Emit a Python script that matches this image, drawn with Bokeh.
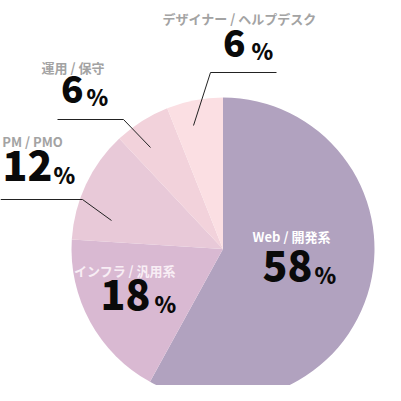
import numpy as np
from bokeh.plotting import figure
from bokeh.models import Range1d, ColumnDataSource
from bokeh.core.properties import value
from bokeh.embed import file_html
from bokeh.resources import INLINE

# ---- data ----
categories = ["Web / 開発系", "インフラ / 汎用系", "PM / PMO", "運用 / 保守", "デザイナー / ヘルプデスク"]
shares = [58, 18, 12, 6, 6]
colors = ["#b1a2bf", "#d9b9d2", "#e8c9d8", "#f2d2db", "#fbdfe3"]
number_labels = ["58", "18", "12", "6", "6"]

W = H = 385
p = figure(width=W, height=H, output_backend="svg", toolbar_location=None,
           x_range=Range1d(0, W), y_range=Range1d(0, H),
           x_axis_type=None, y_axis_type=None, min_border=0,
           outline_line_color=None, background_fill_color="white")
p.grid.visible = False

def Y(sy):  # screen y -> data y
    return H - sy

cx, cy, r = 222.5, Y(248.5), 151.5
frac = np.array(shares, dtype=float) / sum(shares)
cum = np.concatenate([[0], np.cumsum(frac)])
start = np.pi / 2 - 2 * np.pi * cum[:-1]
end = np.pi / 2 - 2 * np.pi * cum[1:]
src = ColumnDataSource(dict(start=start, end=end, color=colors))
p.wedge(x=cx, y=cy, radius=r, start_angle="start", end_angle="end",
        direction="clock", fill_color="color", line_color=None, source=src)

# leader lines (screen coordinates)
leaders = [
    ([193, 210, 276], [125, 72, 72]),
    ([150, 123, 57], [147, 119, 119]),
    ([111, 82, 0], [220, 199, 199]),
]
for xs, ys in leaders:
    p.line(xs, [Y(v) for v in ys], line_color="#222222", line_width=1)

font_lbl = value("Noto Sans CJK JP")
font_num = value("Noto Sans CJK JP Black, Inter")
MID = 0.436  # em offset of text "middle" above the baseline for this font

# category labels: (x center, y middle, color)
lbl_pos = [
    (291, 236, "#ffffff"),
    (124.5, 270, "#f8eef5"),
    (32, 141, "#a3a3a3"),
    (72.5, 67, "#a3a3a3"),
    (239, 18, "#a3a3a3"),
]
# number: (right x of number, digit bottom y, font px, left x of %)
num_pos = [
    (312, 283, 41, 314),
    (150, 312, 41, 154),
    (52, 183, 41, 53),
    (83, 105, 37, 86),
    (245, 59, 37, 251),
]
PCT = 22
for i, cat in enumerate(categories):
    x, y, c = lbl_pos[i]
    p.text(x=[x], y=[Y(y)], text=[cat], text_color=c, text_font=font_lbl,
           text_font_size="13px", text_font_style="bold",
           text_align="center", text_baseline="middle")
    nx, nb, fs, px = num_pos[i]
    p.text(x=[nx], y=[Y(nb - MID * fs)], text=[number_labels[i]], text_color="#0a0a0a",
           text_font=font_num, text_font_size=f"{fs}px", text_font_style="bold",
           text_align="right", text_baseline="middle")
    p.text(x=[px], y=[Y(nb - MID * PCT)], text=["%"], text_color="#0a0a0a",
           text_font=font_num, text_font_size=f"{PCT}px", text_font_style="bold",
           text_align="left", text_baseline="middle")

open("out.html", "w").write(file_html(p, INLINE))
